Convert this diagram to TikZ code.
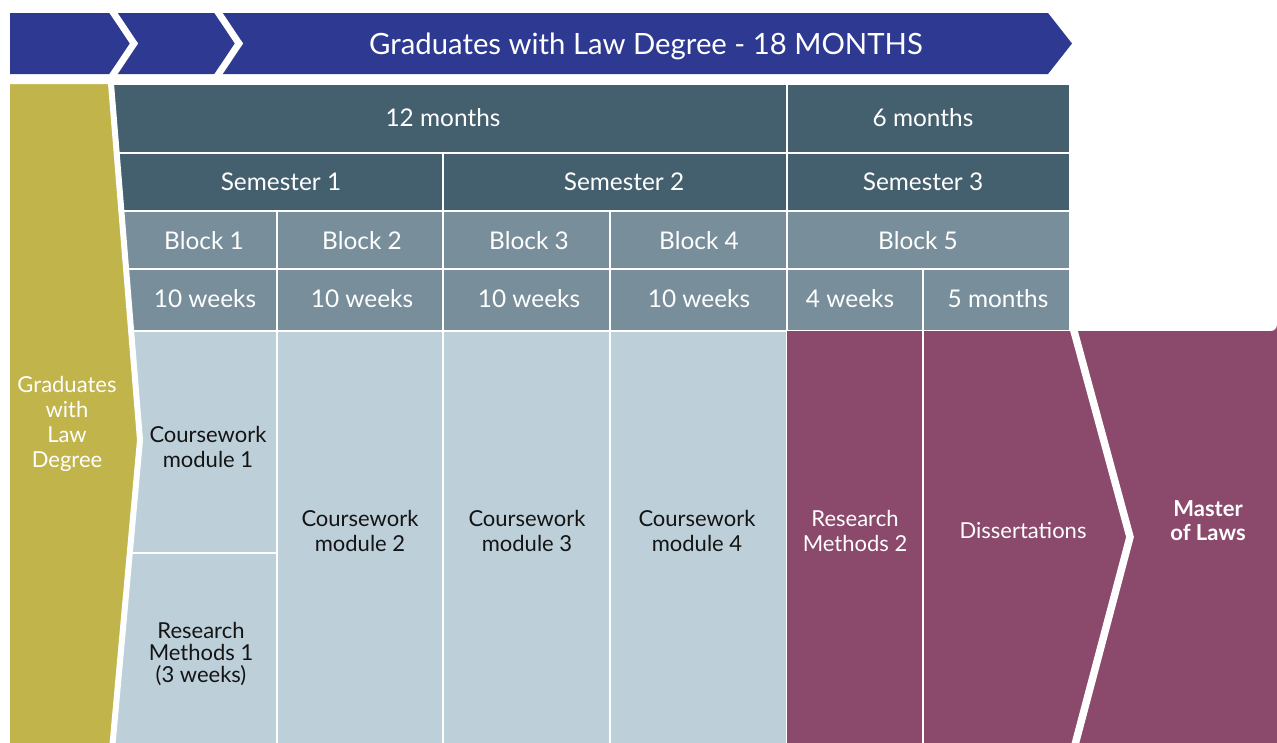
\documentclass[tikz,border=0pt]{standalone}
\usepackage{fontspec}
\setmainfont{Lato}
\definecolor{bannerblue}{HTML}{2E3A91}
\definecolor{darkslate}{HTML}{445F6D}
\definecolor{midslate}{HTML}{788E9A}
\definecolor{lightblue}{HTML}{BDD0DA}
\definecolor{plum}{HTML}{8B496C}
\definecolor{olive}{HTML}{C1B44B}
\begin{document}
\begin{tikzpicture}[x=1pt,y=-1pt,
  cell/.style={draw=white,line width=2pt},
  lbl/.style={font=\fontsize{24.4}{28}\selectfont, text=white, align=center, inner sep=0pt},
  dlbl/.style={font=\fontsize{22}{25}\selectfont, text=black!92, align=center, inner sep=0pt},
  wlbl/.style={dlbl, text=white},
  sep/.style={draw=white, line width=6.8pt, line join=miter}]
\useasboundingbox (0,0) rectangle (1277,742);
% banner
\fill[bannerblue] (10,13) -- (1048,13) -- (1072,43.5) -- (1048,74) -- (10,74) -- cycle;
\draw[sep] (108.2,5) -- (134,43.5) -- (108.2,82);
\draw[sep] (213.2,5) -- (239,43.5) -- (213.2,82);
\node[lbl, font=\fontsize{29.3}{33}\selectfont] (title) at (646,46) {Graduates with Law Degree - 18 MONTHS};
% header rows
\fill[cell, fill=darkslate] (90,84) rectangle (787,153);
\fill[cell, fill=darkslate] (787,84) rectangle (1070,153);
\fill[cell, fill=darkslate] (90,153) rectangle (443,211);
\fill[cell, fill=darkslate] (443,153) rectangle (787,211);
\fill[cell, fill=darkslate] (787,153) rectangle (1070,211);
\foreach \a/\b in {90/277,277/443,443/610,610/787,787/1070}
  \fill[cell, fill=midslate] (\a,211) rectangle (\b,269);
\foreach \a/\b in {90/277,277/443,443/610,610/787,787/923,923/1070}
  \fill[cell, fill=midslate] (\a,269) rectangle (\b,331);
% light blue body
\fill[cell, fill=lightblue] (90,331) rectangle (277,553);
\fill[cell, fill=lightblue] (90,553) rectangle (277,750);
\fill[cell, fill=lightblue] (277,331) rectangle (443,750);
\fill[cell, fill=lightblue] (443,331) rectangle (610,750);
\fill[cell, fill=lightblue] (610,331) rectangle (787,750);
% plum body
\fill[plum] (787,750) -- (787,331) -- (1271,331) arc[start angle=90, end angle=0, radius=6] -- (1277,750) -- cycle;
\draw[white, line width=2pt] (923,331) -- (923,750);
\draw[sep, line width=7.5pt] (1072.4,325) -- (1130,537) -- (1073.6,750);
% olive
\filldraw[fill=olive, draw=white, line width=6pt, line join=miter] (4,81) -- (110.8,81) -- (140,440) -- (112,750) -- (4,750) -- cycle;
\fill[white] (0,78) rectangle (10,750);
\fill[white] (0,76) rectangle (120,84);
% labels
\node[lbl] (m12) at (443,118) {12 months};
\node[lbl] (m6) at (923,118) {6 months};
\node[lbl] (s1) at (281,182) {Semester 1};
\node[lbl] (s2) at (624,182) {Semester 2};
\node[lbl] (s3) at (923,182) {Semester 3};
\node[lbl] (b1) at (204,241) {Block 1};
\node[lbl] (b2) at (362,241) {Block 2};
\node[lbl] (b3) at (529,241) {Block 3};
\node[lbl] (b4) at (699,241) {Block 4};
\node[lbl] (b5) at (918,241) {Block 5};
\node[lbl] (w1) at (205,299) {10 weeks};
\node[lbl] (w2) at (362,299) {10 weeks};
\node[lbl] (w3) at (529,299) {10 weeks};
\node[lbl] (w4) at (699,299) {10 weeks};
\node[lbl] (w5) at (850,299) {4 weeks};
\node[lbl] (w6) at (998,299) {5 months};
\node[wlbl] (grad) at (67,424) {Graduates\\with\\Law\\Degree};
\node[dlbl] (cm1) at (208,447) {Coursework\\module 1};
\node[dlbl, font=\fontsize{22}{22}\selectfont] (rm1) at (201,654) {Research\\Methods 1\\(3 weeks)};
\node[dlbl] (cm2) at (360,531) {Coursework\\module 2};
\node[dlbl] (cm3) at (527,531) {Coursework\\module 3};
\node[dlbl] (cm4) at (697,531) {Coursework\\module 4};
\node[wlbl] (rm2) at (855,531) {Research\\Methods 2};
\node[wlbl] (diss) at (1023,531) {Dissertations};
\node[wlbl, font=\fontsize{22}{24}\selectfont\bfseries] (mol) at (1208,521) {Master\\of Laws};
\end{tikzpicture}
\end{document}
